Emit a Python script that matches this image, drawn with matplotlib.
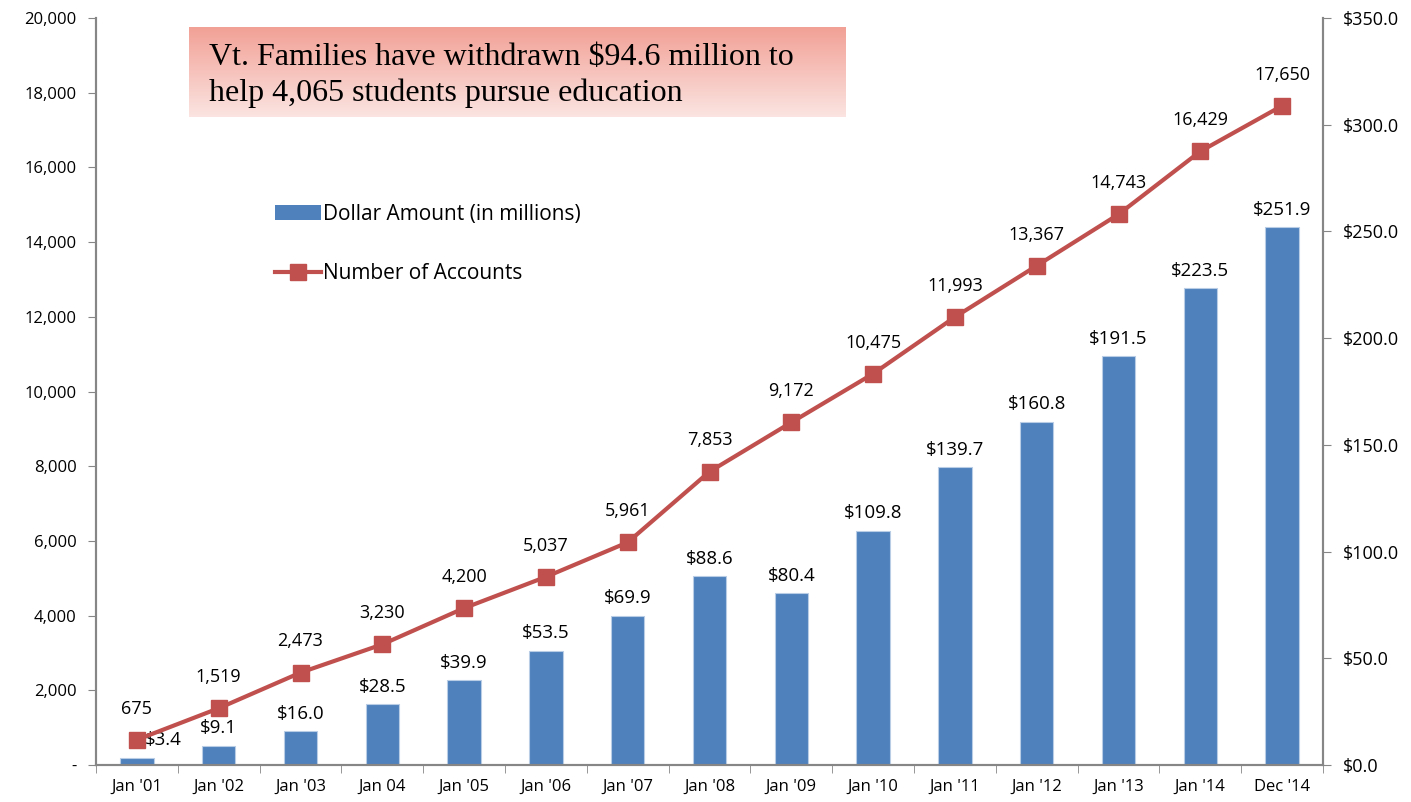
import numpy as np
import matplotlib
matplotlib.use("Agg")
from matplotlib import pyplot as plt
from matplotlib.ticker import FuncFormatter, FixedLocator
from matplotlib.patches import Patch
from matplotlib.lines import Line2D
from matplotlib.colors import LinearSegmentedColormap

months = ["Jan '01", "Jan '02", "Jan '03", "Jan 04", "Jan '05", "Jan '06", "Jan '07",
          "Jan '08", "Jan '09", "Jan '10", "Jan '11", "Jan '12", "Jan '13", "Jan '14", "Dec '14"]
accounts = [675, 1519, 2473, 3230, 4200, 5037, 5961, 7853, 9172, 10475,
            11993, 13367, 14743, 16429, 17650]
dollars = [3.4, 9.1, 16.0, 28.5, 39.9, 53.5, 69.9, 88.6, 80.4, 109.8,
           139.7, 160.8, 191.5, 223.5, 251.9]

BLUE = "#4F81BD"
RED = "#C0504D"
GRAY = "#868686"

plt.rcParams['font.family'] = ['Open Sans', 'DejaVu Sans']

fig = plt.figure(figsize=(14.11, 8.02), dpi=100)
ax = fig.add_axes([96/1411, 1-765/802, (1323-96)/1411, (765-18)/802])
ax2 = ax.twinx()

x = np.arange(len(months))

# bars on right axis
ax2.bar(x, dollars, width=0.41, color=BLUE, edgecolor="#B9CDE5", linewidth=0.8, zorder=2)
for i, (xi, v) in enumerate(zip(x, dollars)):
    dx = 19 if i == 0 else 0  # first label sits beside the marker
    ax2.annotate(f"${v:.1f}", (xi, v), xytext=(dx, 6), textcoords="offset points",
                 ha="center", va="bottom", fontsize=13.5)

ax2.set_ylim(0, 350)
ax2.set_yticks(np.arange(0, 351, 50))
ax2.yaxis.set_major_formatter(FuncFormatter(lambda v, p: f"${v:.1f}"))

# line on left axis, drawn above bars
ax.set_zorder(ax2.get_zorder() + 1)
ax.patch.set_visible(False)
ax.plot(x, accounts, color=RED, lw=3, marker="s", ms=11, zorder=3)
for xi, v in zip(x, accounts):
    ax.annotate(f"{v:,}", (xi, v), xytext=(0, 16), textcoords="offset points",
                ha="center", va="bottom", fontsize=13)

ax.set_ylim(0, 20000)
ax.set_yticks(np.arange(0, 20001, 2000))
ax.yaxis.set_major_formatter(FuncFormatter(lambda v, p: "-" if v == 0 else f"{int(v):,}"))
ax.set_xlim(-0.5, len(months) - 0.5)

ax.set_xticks(x)
ax.set_xticklabels(months)
ax.xaxis.set_minor_locator(FixedLocator(np.arange(-0.5, len(months), 1)))
ax.tick_params(axis="x", which="major", length=0, pad=10, labelsize=12)
ax.tick_params(axis="x", which="minor", length=6, color=GRAY, direction="out")
ax.tick_params(axis="y", length=6, color=GRAY, labelsize=12, pad=8)
ax2.tick_params(axis="y", length=6, color=GRAY, labelsize=13, pad=8)

for a in (ax, ax2):
    a.spines["top"].set_visible(False)
    for s in ("left", "right", "bottom"):
        a.spines[s].set_color(GRAY)
        a.spines[s].set_linewidth(1.5)

# legend
handles = [Patch(facecolor=BLUE, label="Dollar Amount (in millions)"),
           Line2D([0], [0], color=RED, lw=3, marker="s", ms=11, label="Number of Accounts")]
fig.legend(handles=handles, loc="upper left", bbox_to_anchor=(256/1411, 1-185/802),
           frameon=False, fontsize=15, labelspacing=1.85, handlelength=2.2,
           handletextpad=0.1)

# gradient title box
bx0, bx1, by0, by1 = 189/1411, 846/1411, 1-117/802, 1-27/802
box = fig.add_axes([bx0, by0, bx1 - bx0, by1 - by0])
grad = np.linspace(0, 1, 100)[:, None]
cmap = LinearSegmentedColormap.from_list("g", ["#F2A196", "#FBE4E1"])
box.imshow(grad, aspect="auto", cmap=cmap, extent=[0, 1, 0, 1], origin="upper")
box.set_axis_off()
box.text(0.03, 0.46, "Vt. Families have withdrawn $94.6 million to\nhelp 4,065 students pursue education",
         transform=box.transAxes, ha="left", va="center", fontsize=23,
         family=["Liberation Serif", "DejaVu Serif"], linespacing=1.3)

fig.savefig("out.png", dpi=100)
